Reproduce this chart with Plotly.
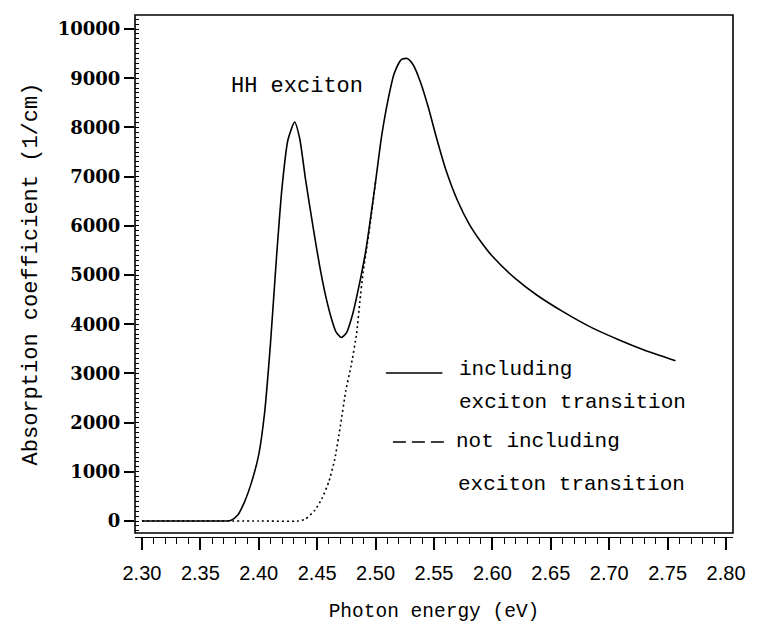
import plotly.graph_objects as go

# ---- data ----
energy_incl = [2.300, 2.340, 2.370, 2.376, 2.382, 2.388, 2.394, 2.400, 2.405, 2.410,
               2.415, 2.420, 2.425, 2.4307, 2.435, 2.440, 2.447, 2.452, 2.457, 2.462,
               2.466, 2.4705, 2.475, 2.480, 2.486, 2.492, 2.500, 2.505, 2.511, 2.516,
               2.522, 2.527, 2.532, 2.538, 2.545, 2.552, 2.560, 2.570, 2.580, 2.590,
               2.600, 2.620, 2.6379, 2.660, 2.685, 2.7086, 2.7298, 2.7567]
absorb_incl = [0, 0, 0, 10, 120, 400, 800, 1350, 2200, 3600,
               5300, 6800, 7750, 8110, 7780, 6950, 5900, 5200, 4600, 4130,
               3850, 3730, 3820, 4170, 4800, 5550, 6900, 7800, 8600, 9100,
               9380, 9400, 9280, 8950, 8420, 7800, 7150, 6520, 6040, 5680,
               5380, 4920, 4593, 4260, 3930, 3679, 3476, 3258]

energy_excl = [2.300, 2.400, 2.434, 2.440, 2.448, 2.454, 2.460, 2.465, 2.470, 2.4745,
               2.479, 2.4837, 2.4865, 2.4893, 2.4921, 2.496, 2.500]
absorb_excl = [0, 0, 0, 40, 220, 450, 800, 1250, 1950, 2650,
               3150, 3800, 4450, 5050, 5500, 6150, 6900]

x_ticks = [2.30, 2.35, 2.40, 2.45, 2.50, 2.55, 2.60, 2.65, 2.70, 2.75, 2.80]
x_tick_text = ["2.30", "2.35", "2.40", "2.45", "2.50", "2.55", "2.60", "2.65", "2.70", "2.75", "2.80"]
y_ticks = [0, 1000, 2000, 3000, 4000, 5000, 6000, 7000, 8000, 9000, 10000]
y_tick_text = ["0", "1000", "2000", "3000", "4000", "5000", "6000", "7000", "8000", "9000", "10000"]

MONO = "Liberation Mono"
SERIF = "DejaVu Serif"

fig = go.Figure()
fig.add_trace(go.Scatter(x=energy_excl, y=absorb_excl, mode="lines",
                         line=dict(color="black", width=1.6, dash="2px,3px", shape="spline", smoothing=0.5),
                         name="not including exciton transition", showlegend=False, hoverinfo="skip"))
fig.add_trace(go.Scatter(x=energy_incl, y=absorb_incl, mode="lines",
                         line=dict(color="black", width=1.6, shape="spline", smoothing=0.6),
                         name="including exciton transition", showlegend=False, hoverinfo="skip"))

# frame
fig.add_shape(type="rect", xref="x domain", yref="y domain", x0=0, x1=1, y0=0, y1=1,
              line=dict(color="black", width=1.6))

# legend samples
fig.add_shape(type="line", xref="x", yref="y", x0=2.5088, x1=2.5572, y0=3008, y1=3008,
              line=dict(color="black", width=1.5))
fig.add_shape(type="line", xref="x", yref="y", x0=2.5148, x1=2.5632, y0=1606, y1=1606,
              line=dict(color="black", width=1.5, dash="13px,6px"))

ann_font = dict(family=MONO, size=21, color="black")
fig.add_annotation(x=2.5700, y=3089, text="including", showarrow=False,
                   xanchor="left", yanchor="middle", font=ann_font)
fig.add_annotation(x=2.5700, y=2400, text="exciton transition", showarrow=False,
                   xanchor="left", yanchor="middle", font=ann_font)
fig.add_annotation(x=2.5674, y=1606, text="not including", showarrow=False,
                   xanchor="left", yanchor="middle", font=ann_font)
fig.add_annotation(x=2.5691, y=732, text="exciton transition", showarrow=False,
                   xanchor="left", yanchor="middle", font=ann_font)
fig.add_annotation(x=2.4324, y=8841, text="HH exciton", showarrow=False,
                   xanchor="center", yanchor="middle",
                   font=dict(family=MONO, size=22, color="black"))

fig.update_layout(
    width=757, height=634,
    margin=dict(l=135, r=19, t=15, b=97, pad=0),
    paper_bgcolor="white", plot_bgcolor="white",
    showlegend=False,
    xaxis=dict(
        range=[2.29406, 2.80594], anchor="free", position=0,
        showline=True, linecolor="black", linewidth=1,
        ticks="outside", ticklen=12, tickwidth=1.5, tickcolor="black",
        tickvals=x_ticks, ticktext=x_tick_text, ticklabelstandoff=6,
        minor=dict(dtick=0.01, tick0=2.30, ticks="outside", ticklen=6, tickwidth=1.2, tickcolor="black", showgrid=False),
        tickfont=dict(family="Liberation Sans", size=20, color="black"),
        showgrid=False, zeroline=False,
        title=dict(text="Photon energy (eV)", font=dict(family=MONO, size=19.5, color="black"), standoff=20),
    ),
    yaxis=dict(
        domain=[4 / 522, 1], range=[-244, 10285],
        ticks="outside", ticklen=10, tickwidth=1.5, tickcolor="black",
        tickvals=y_ticks, ticktext=y_tick_text,
        minor=dict(dtick=100, tick0=0, ticks="inside", ticklen=4, tickwidth=1, tickcolor="black", showgrid=False),
        tickfont=dict(family=SERIF, size=18, color="black", weight="bold"),
        showgrid=False, zeroline=False, showline=False,
        title=dict(text="Absorption coefficient (1/cm)", font=dict(family=MONO, size=22, color="black"), standoff=14),
    ),
)

fig.write_html("out.html", config={"displayModeBar": False},
               post_script="document.body.style.margin='0';document.body.style.overflow='hidden';")
